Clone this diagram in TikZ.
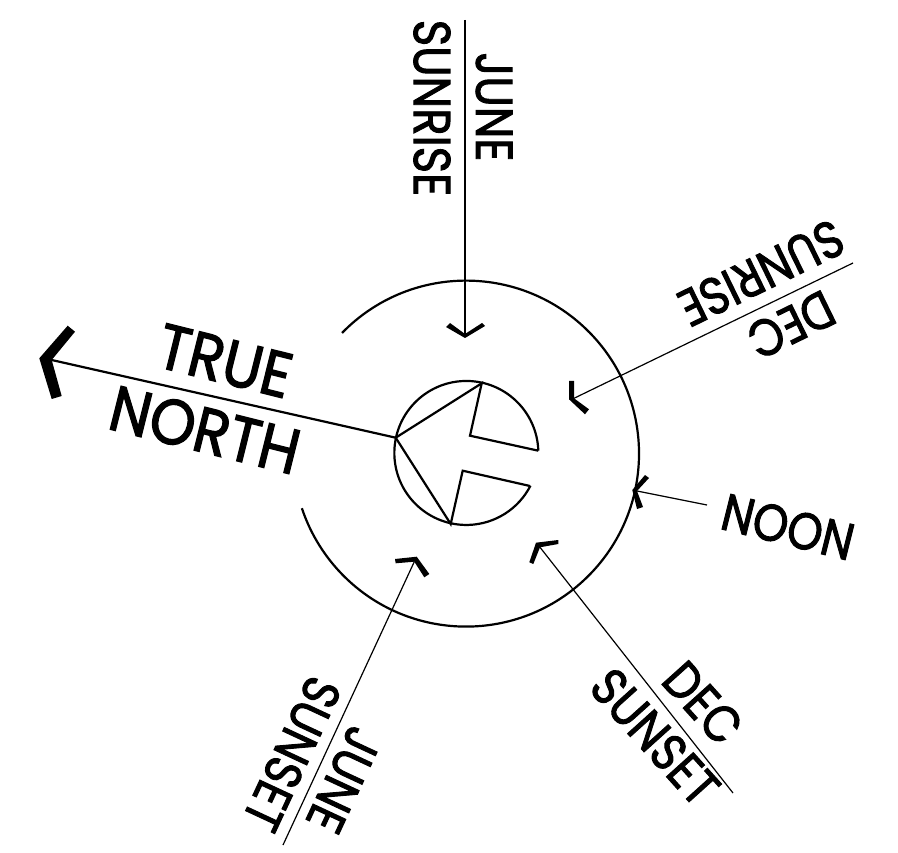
\documentclass[tikz,border=0pt]{standalone}
\usepackage{fontspec}
\setmainfont[FakeBold=2]{Poppins}
\tikzset{
  thinline/.style={line width=1.2pt,black},
  wire/.style={line width=2.2pt,black,line join=miter},
  headfill/.style={fill=black,draw=none},
  lab/.style={inner sep=0pt,yscale=1.15,font=\fontsize{45}{45}\selectfont},
  biglab/.style={inner sep=0pt,yscale=1.1,font=\fontsize{58}{58}\selectfont},
}
\begin{document}
\begin{tikzpicture}[x=1pt,y=-1pt]
\useasboundingbox[fill=white] (0,0) rectangle (898,853);
% sun ring and building plan
\coordinate (ringstart) at (342,333);
\draw[wire] (ringstart) arc[start angle=135.8,end angle=-161.6,radius=173pt];
\coordinate (tip) at (395.7,437.7);
\coordinate (pa) at (481.7,383.3);
\coordinate (pb) at (470,435.7);
\coordinate (pc) at (538.3,450.7);
\coordinate (pd) at (530,486);
\coordinate (pe) at (462.7,470.7);
\coordinate (pf) at (450.7,524);
\draw[wire] (pc) arc[start angle=1.8,end angle=333,radius=72pt];
\draw[wire] (pc) -- (pb) -- (pa) -- (tip) -- (pf) -- (pe) -- (pd);
% true north
\coordinate (nv) at (51.7,360);
\draw[wire] (tip) -- (nv);
\fill[headfill] (39.3,358.3) -- (67.7,325.7) -- (75,331.7) -- (nv) -- (61.7,396) -- (51.7,399) -- cycle;
% june sunrise
\coordinate (a1) at (465,20);
\coordinate (a1v) at (465,334);
\draw[thinline] (a1) -- (a1v);
\fill[headfill] (465,338) -- (446,327) -- (450,323) -- (a1v) -- (482,323) -- (485,326) -- cycle;
% dec sunrise
\coordinate (a2) at (853,263);
\coordinate (a2v) at (574,398.3);
\draw[thinline] (a2) -- (a2v);
\fill[headfill] (569,399.3) -- (569,381) -- (574,381) -- (a2v) -- (589,409.3) -- (585,414.3) -- cycle;
% noon
\coordinate (a3) at (707,505);
\coordinate (a3v) at (637,491);
\draw[thinline] (a3) -- (a3v);
\fill[headfill] (632.3,490) -- (645,475) -- (649,478) -- (a3v) -- (643,507) -- (637,509) -- cycle;
% dec sunset
\coordinate (a4) at (733,793);
\coordinate (a4v) at (540,547.3);
\draw[thinline] (a4) -- (a4v);
\fill[headfill] (536,542.7) -- (558.3,540) -- (558.3,544) -- (a4v) -- (533.3,564) -- (529.3,562.3) -- cycle;
% june sunset
\coordinate (a5) at (283,845);
\coordinate (a5v) at (414.3,561.7);
\draw[thinline] (a5) -- (a5v);
\fill[headfill] (416.7,556.7) -- (429.3,574) -- (424.3,577.3) -- (a5v) -- (395.7,563.3) -- (395,559) -- cycle;
% labels
\node[rotate=-90,lab] (juneup) at (494,107) {JUNE};
\node[rotate=-90,lab] (sunriseup) at (432,108) {SUNRISE};
\node[rotate=206,lab] (dec1) at (791,325) {DEC};
\node[rotate=206,lab] (sunrise2) at (761,273) {SUNRISE};
\node[rotate=-14,lab] (noon) at (788,527) {NOON};
\node[rotate=-48,lab] (dec2) at (703,703) {DEC};
\node[rotate=-48,lab] (sunset2) at (655,737) {SUNSET};
\node[rotate=-115,lab] (june3) at (344,780) {JUNE};
\node[rotate=-115,lab] (sunset3) at (292,754) {SUNSET};
\node[rotate=-14,biglab] (truelab) at (225,361) {TRUE};
\node[rotate=-14,biglab] (northlab) at (205,430) {NORTH};
\end{tikzpicture}
\end{document}
